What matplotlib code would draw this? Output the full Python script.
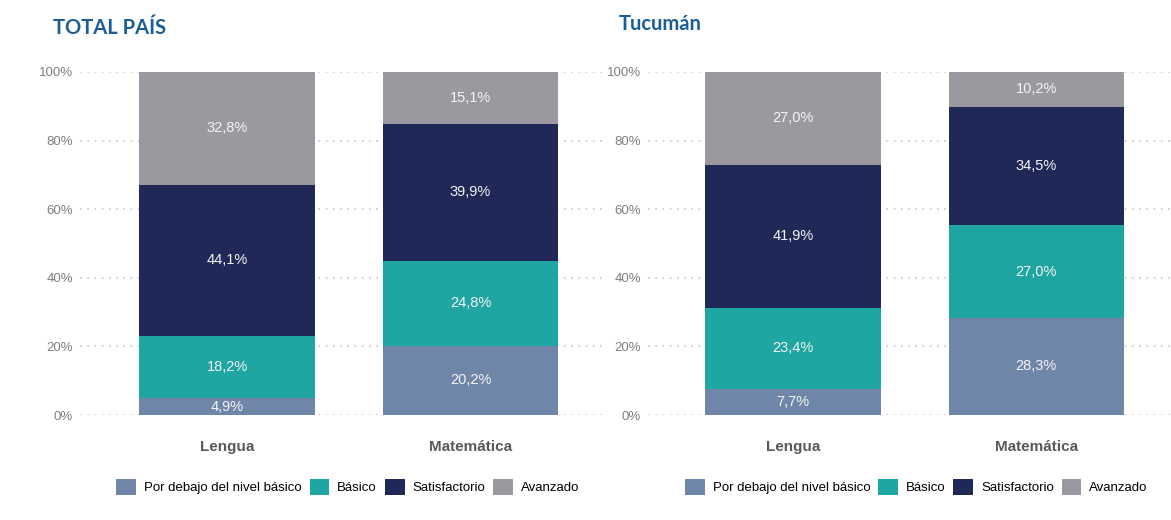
import matplotlib.pyplot as plt
import numpy as np

# datos
materias = ['Lengua', 'Matemática']
niveles = ['Por debajo del nivel básico', 'Básico', 'Satisfactorio', 'Avanzado']
colores = ['#6f86a8', '#1fa6a2', '#1f2857', '#9b98a0']

total_lengua = [4.9, 18.2, 44.1, 32.8]
total_matematica = [20.2, 24.8, 39.9, 15.1]
tucuman_lengua = [7.7, 23.4, 41.9, 27.0]
tucuman_matematica = [28.3, 27.0, 34.5, 10.2]

paneles = [
    ('TOTAL PAÍS', [total_lengua, total_matematica]),
    ('Tucumán', [tucuman_lengua, tucuman_matematica]),
]

plt.rcParams['font.family'] = ['Liberation Sans', 'DejaVu Sans']

W, H = 1171, 520
fig = plt.figure(figsize=(W / 100, H / 100), dpi=100)

# posiciones de los ejes en pixeles (izq, der) y limites x
ejes_px = [(80, 602), (648, 1171)]
xlims = [(-0.604, 1.54), (-0.595, 1.553)]
titulos_px = [(53, 34), (619, 30)]
top, bottom = 72, 415

for (titulo, datos), (x0, x1), xl, (tx, ty) in zip(paneles, ejes_px, xlims, titulos_px):
    ax = fig.add_axes([x0 / W, (H - bottom) / H, (x1 - x0) / W, (bottom - top) / H])
    x = np.arange(len(materias))
    base = np.zeros(len(materias))
    for i, nivel in enumerate(niveles):
        vals = np.array([d[i] for d in datos])
        ax.bar(x, vals, bottom=base, width=0.72, color=colores[i], label=nivel, zorder=2)
        for xi, v, b in zip(x, vals, base):
            ax.text(xi, b + v / 2, f'{v:.1f}%'.replace('.', ','), ha='center', va='center',
                    color='#f4f4f4', fontsize=10.5, zorder=3)
        base += vals

    ax.set_xlim(*xl)
    ax.set_ylim(0, 100)
    ax.set_yticks(range(0, 101, 20))
    ax.set_yticklabels([f'{v}%' for v in range(0, 101, 20)])
    ax.set_xticks(x)
    ax.set_xticklabels(materias, fontsize=11, fontweight='bold', color='#595959')
    ax.tick_params(axis='y', length=0, pad=5, labelsize=9.5, labelcolor='#7f7f7f')
    ax.tick_params(axis='x', length=0, pad=18)
    ax.yaxis.grid(True, color='#d0d0d0', linestyle=(0, (1, 3)), linewidth=1.3)
    ax.set_axisbelow(True)
    for s in ax.spines.values():
        s.set_visible(False)

    ax.legend(loc='center', bbox_to_anchor=(0.513, -0.21), ncol=4, frameon=False,
              fontsize=9.5, handlelength=1.5, handleheight=1.5, handletextpad=0.6,
              columnspacing=0.6)

    fig.text(tx / W, (H - ty) / H, titulo, fontsize=14.5, fontweight='bold',
             color='#1b5e96', family=['Lato', 'DejaVu Sans'], va='baseline')

fig.savefig('out.png', dpi=100)
